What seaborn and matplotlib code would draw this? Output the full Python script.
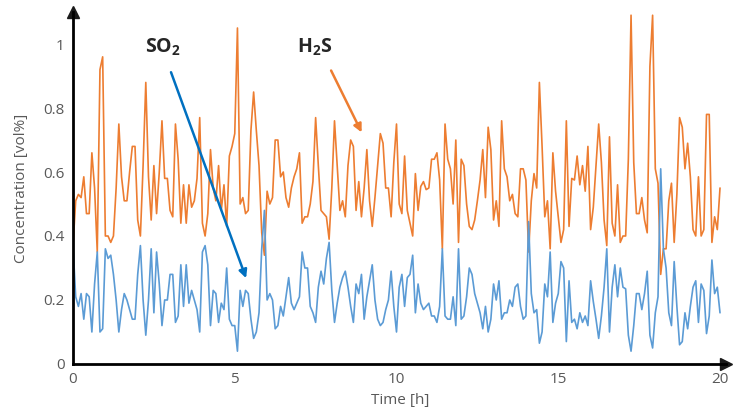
import numpy as np
import pandas as pd
import matplotlib
matplotlib.use("Agg")
import matplotlib.pyplot as plt
import seaborn as sns

# ==============================
# DATA (5-min samples over 20 h)
# ==============================

time_h = np.arange(241) / 12.0

h2s = [
    0.37, 0.51, 0.53, 0.52, 0.585, 0.47, 0.47, 0.66, 0.55, 0.35,
    0.92, 0.96, 0.40, 0.40, 0.38, 0.40, 0.55, 0.75, 0.585, 0.51,
    0.51, 0.60, 0.68, 0.68, 0.45, 0.40, 0.62, 0.88, 0.585, 0.45,
    0.62, 0.47, 0.60, 0.76, 0.58, 0.58, 0.48, 0.46, 0.75, 0.64,
    0.44, 0.56, 0.44, 0.56, 0.49, 0.51, 0.58, 0.77, 0.44, 0.40,
    0.47, 0.67, 0.55, 0.51, 0.62, 0.48, 0.56, 0.43, 0.65, 0.68,
    0.72, 1.05, 0.50, 0.52, 0.47, 0.48, 0.73, 0.85, 0.73, 0.62,
    0.41, 0.34, 0.54, 0.50, 0.52, 0.70, 0.70, 0.585, 0.60, 0.52,
    0.49, 0.55, 0.585, 0.61, 0.66, 0.44, 0.46, 0.46, 0.50, 0.57,
    0.77, 0.62, 0.48, 0.47, 0.46, 0.39, 0.55, 0.76, 0.62, 0.48,
    0.51, 0.46, 0.62, 0.70, 0.68, 0.48, 0.57, 0.46, 0.55, 0.67,
    0.51, 0.43, 0.52, 0.62, 0.72, 0.69, 0.55, 0.55, 0.46, 0.63,
    0.75, 0.50, 0.47, 0.65, 0.48, 0.44, 0.40, 0.595, 0.48, 0.555,
    0.57, 0.545, 0.55, 0.64, 0.64, 0.66, 0.575, 0.36, 0.75, 0.64,
    0.61, 0.50, 0.70, 0.38, 0.64, 0.62, 0.50, 0.43, 0.42, 0.45,
    0.51, 0.575, 0.67, 0.52, 0.74, 0.67, 0.45, 0.51, 0.43, 0.76,
    0.61, 0.585, 0.51, 0.53, 0.47, 0.46, 0.61, 0.61, 0.575, 0.35,
    0.51, 0.595, 0.55, 0.88, 0.68, 0.46, 0.51, 0.36, 0.66, 0.54,
    0.46, 0.38, 0.42, 0.76, 0.43, 0.58, 0.575, 0.65, 0.56, 0.62,
    0.54, 0.68, 0.42, 0.49, 0.62, 0.75, 0.63, 0.45, 0.37, 0.71,
    0.44, 0.40, 0.56, 0.38, 0.40, 0.40, 0.64, 1.09, 0.63, 0.47,
    0.47, 0.52, 0.45, 0.41, 0.93, 1.09, 0.61, 0.565, 0.28, 0.36,
    0.36, 0.51, 0.565, 0.38, 0.53, 0.77, 0.74, 0.61, 0.69, 0.585,
    0.42, 0.40, 0.585, 0.40, 0.42, 0.78, 0.78, 0.38, 0.46, 0.42,
    0.55,
]

so2 = [
    0.37, 0.21, 0.18, 0.22, 0.14, 0.22, 0.21, 0.10, 0.25, 0.35,
    0.10, 0.11, 0.36, 0.33, 0.34, 0.28, 0.20, 0.10, 0.17, 0.22,
    0.20, 0.17, 0.14, 0.14, 0.28, 0.37, 0.20, 0.09, 0.20, 0.36,
    0.16, 0.35, 0.25, 0.12, 0.20, 0.20, 0.28, 0.28, 0.13, 0.15,
    0.31, 0.18, 0.31, 0.19, 0.23, 0.20, 0.17, 0.10, 0.35, 0.37,
    0.31, 0.12, 0.23, 0.22, 0.13, 0.19, 0.17, 0.30, 0.14, 0.12,
    0.12, 0.04, 0.23, 0.18, 0.23, 0.22, 0.14, 0.08, 0.10, 0.16,
    0.36, 0.48, 0.20, 0.22, 0.20, 0.11, 0.12, 0.18, 0.15, 0.21,
    0.27, 0.19, 0.17, 0.19, 0.21, 0.35, 0.30, 0.30, 0.18, 0.16,
    0.13, 0.24, 0.29, 0.25, 0.33, 0.38, 0.23, 0.13, 0.19, 0.24,
    0.27, 0.29, 0.24, 0.18, 0.13, 0.25, 0.22, 0.28, 0.14, 0.21,
    0.26, 0.31, 0.20, 0.14, 0.12, 0.13, 0.17, 0.20, 0.29, 0.18,
    0.10, 0.24, 0.28, 0.18, 0.27, 0.28, 0.34, 0.16, 0.25, 0.19,
    0.17, 0.18, 0.19, 0.15, 0.15, 0.13, 0.18, 0.36, 0.15, 0.14,
    0.14, 0.21, 0.12, 0.36, 0.14, 0.15, 0.21, 0.30, 0.28, 0.22,
    0.19, 0.16, 0.11, 0.18, 0.10, 0.14, 0.25, 0.20, 0.26, 0.14,
    0.16, 0.16, 0.20, 0.18, 0.24, 0.25, 0.18, 0.14, 0.15, 0.445,
    0.22, 0.16, 0.17, 0.065, 0.10, 0.25, 0.21, 0.35, 0.13, 0.19,
    0.22, 0.32, 0.30, 0.07, 0.26, 0.13, 0.14, 0.11, 0.16, 0.13,
    0.15, 0.12, 0.26, 0.195, 0.14, 0.08, 0.15, 0.24, 0.36, 0.10,
    0.24, 0.31, 0.21, 0.30, 0.24, 0.235, 0.09, 0.04, 0.12, 0.22,
    0.22, 0.17, 0.22, 0.29, 0.09, 0.05, 0.16, 0.21, 0.61, 0.36,
    0.30, 0.16, 0.12, 0.32, 0.18, 0.06, 0.07, 0.16, 0.11, 0.18,
    0.24, 0.26, 0.13, 0.25, 0.23, 0.095, 0.15, 0.325, 0.22, 0.24,
    0.16,
]

x_ticks = [0, 5, 10, 15, 20]
y_ticks = [0, 0.2, 0.4, 0.6, 0.8, 1]
y_tick_labels = ["0", "0.2", "0.4", "0.6", "0.8", "1"]

df = pd.DataFrame({"time": time_h, "H2S": h2s, "SO2": so2})

# ==============================
# PLOT
# ==============================

sns.set_theme(style="white")
plt.rcParams["font.family"] = ["Open Sans", "DejaVu Sans"]
plt.rcParams["mathtext.fontset"] = "custom"
plt.rcParams["mathtext.bf"] = "Open Sans:bold"
plt.rcParams["mathtext.rm"] = "Open Sans"

ORANGE = "#ED7D31"
BLUE = "#5B9BD5"
GREY = "#595959"

fig = plt.figure(figsize=(7.33, 4.19), dpi=100)
ax = fig.add_axes([0.0996, 0.1313, 0.8915, 0.8400])

sns.lineplot(data=df, x="time", y="H2S", color=ORANGE, linewidth=1.2, ax=ax)
sns.lineplot(data=df, x="time", y="SO2", color=BLUE, linewidth=1.2, ax=ax)

ax.set_xlim(0, 20.2)
ax.set_ylim(0, 1.1)
ax.set_xticks(x_ticks)
ax.set_yticks(y_ticks)
ax.set_yticklabels(y_tick_labels)
ax.tick_params(axis="both", length=0, labelsize=11, labelcolor=GREY, pad=6)

ax.set_xlabel("Time [h]", fontsize=11, color=GREY, labelpad=4)
ax.set_ylabel("Concentration [vol%]", fontsize=11, color=GREY, labelpad=10)

# axes with arrow heads
for side in ["top", "right"]:
    ax.spines[side].set_visible(False)
for side in ["left", "bottom"]:
    ax.spines[side].set_color("black")
    ax.spines[side].set_linewidth(2)
ax.plot(1, 0, ">k", markersize=8, transform=ax.transAxes, clip_on=False)
ax.plot(0, 1, "^k", markersize=8, transform=ax.transAxes, clip_on=False)

# labels with arrows
ax.text(2.78, 0.99, r"$\mathbf{SO_2}$", fontsize=14, ha="center", va="center")
ax.annotate("", xy=(5.38, 0.26), xytext=(3.0, 0.92),
            arrowprops=dict(arrowstyle="-|>", color="#0070C0", lw=1.8,
                            mutation_scale=12))
ax.text(7.48, 0.99, r"$\mathbf{H_2S}$", fontsize=14, ha="center", va="center")
ax.annotate("", xy=(8.96, 0.716), xytext=(7.94, 0.925),
            arrowprops=dict(arrowstyle="-|>", color=ORANGE, lw=1.8,
                            mutation_scale=12))

plt.savefig("out.png", dpi=100)
plt.close()
